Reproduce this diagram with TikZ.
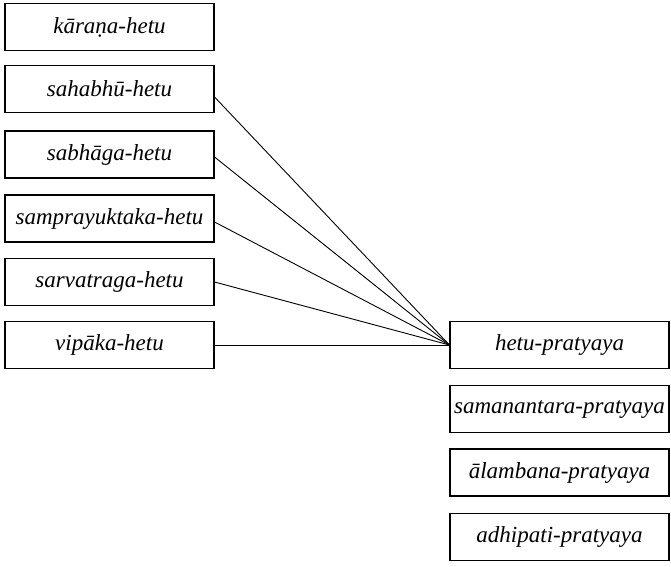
\documentclass[tikz,border=0pt]{standalone}
\usepackage{fontspec}
\setmainfont{Liberation Serif}
\begin{document}
\begin{tikzpicture}[x=1pt,y=-1pt,
  hetubox/.style={draw, line width=1.1pt, minimum width=209pt, minimum height=47pt,
    inner sep=0pt, font=\fontsize{23}{26}\selectfont\itshape, anchor=center},
  condbox/.style={hetubox, minimum width=219pt},
  link/.style={line width=0.9pt}]
\useasboundingbox (0,0) rectangle (671,566);
% the six causes
\node[hetubox] (karana)  at (109.5,27)  {kāraṇa-hetu};
\node[hetubox] (sahabhu) at (109.5,89)  {sahabhū-hetu};
\node[hetubox] (sabhaga) at (109.5,154.5) {sabhāga-hetu};
\node[hetubox] (sampra)  at (109.5,218.5) {samprayuktaka-hetu};
\node[hetubox] (sarva)   at (109.5,282) {sarvatraga-hetu};
\node[hetubox] (vipaka)  at (109.5,345) {vipāka-hetu};
% the four conditions
\node[condbox] (hetup)  at (559.5,345) {hetu-pratyaya};
\node[condbox] (saman)  at (559.5,409) {samanantara-pratyaya};
\node[condbox] (alamb)  at (559.5,472.5) {ālambana-pratyaya};
\node[condbox] (adhip)  at (559.5,537) {adhipati-pratyaya};
% causes gathered under hetu-pratyaya
\draw[link] ([yshift=-8pt]sahabhu.east) -- (hetup.west);
\draw[link] ([yshift=-2.5pt]sabhaga.east) -- (hetup.west);
\draw[link] ([yshift=-3.5pt]sampra.east) -- (hetup.west);
\draw[link] (sarva.east) -- (hetup.west);
\draw[link] (vipaka.east) -- (hetup.west);
\end{tikzpicture}
\end{document}
